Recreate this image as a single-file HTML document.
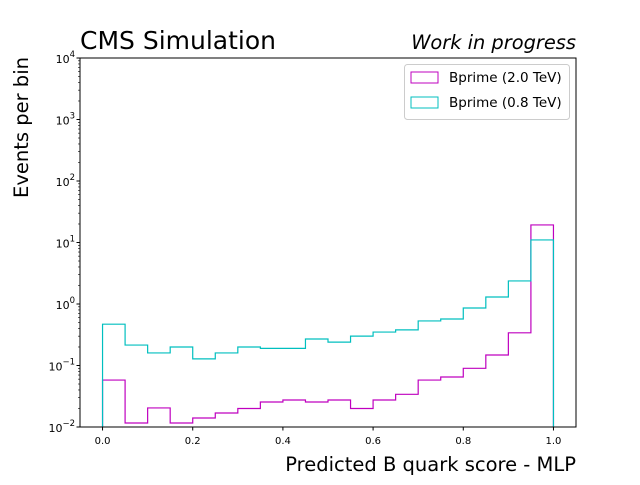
<!DOCTYPE html>
<html><head><meta charset="utf-8"><style>
body{margin:0;background:#fff;}
svg{font-family:"DejaVu Sans","Liberation Sans",sans-serif;}
</style></head><body>
<svg id="c" width="640" height="480">
<rect width="640" height="480" fill="#fff"/>
<g id="plot"></g>
<text x="80" y="49" font-size="25">CMS Simulation</text>
<text x="576" y="49" font-size="19.4" font-style="italic" text-anchor="end">Work in progress</text>
<text x="576" y="471" font-size="19.5" text-anchor="end">Predicted B quark score - MLP</text>
<text transform="translate(28,198) rotate(-90)" font-size="19.5">Events per bin</text>
<g>
<rect x="404.5" y="64.5" width="165" height="55" rx="3" fill="#fff" stroke="#ccc"/>
<rect x="411" y="72" width="27" height="11" fill="none" stroke="#bf00bf"/>
<text x="449" y="82" font-size="13.5">Bprime (2.0 TeV)</text>
<rect x="411" y="97" width="27" height="11" fill="none" stroke="#00bfbf"/>
<text x="449" y="107" font-size="13.5">Bprime (0.8 TeV)</text>
</g>
</svg>
<script>
const binEdgesStart = 0, binWidth = 0.05;
const bprime20 = [0.058,0.0116,0.0204,0.0116,0.014,0.0169,0.020,0.0255,0.0275,0.0255,0.0275,0.020,0.0275,0.034,0.058,0.065,0.09,0.148,0.34,19.3];
const bprime08 = [0.47,0.215,0.16,0.2,0.128,0.16,0.2,0.19,0.19,0.27,0.24,0.30,0.35,0.38,0.53,0.57,0.86,1.3,2.37,11];
const xTicks = [0,0.2,0.4,0.6,0.8,1.0];
const xTickLabels = ["0.0","0.2","0.4","0.6","0.8","1.0"];
const yExps = [-2,-1,0,1,2,3,4];

const L=80,R=576,T=58,B=427,xmin=-0.05,xmax=1.05,lmin=-2,lmax=4;
const sx=v=>L+(v-xmin)/(xmax-xmin)*(R-L);
const sy=v=>B-(Math.log10(v)-lmin)/(lmax-lmin)*(B-T);
const NS="http://www.w3.org/2000/svg";
const g=document.getElementById('plot');
function mk(t,a){const e=document.createElementNS(NS,t);for(const k in a)e.setAttribute(k,a[k]);g.appendChild(e);return e;}

function hist(vals,color,name){
  let d=`M${sx(binEdgesStart)},${B}`;
  vals.forEach((v,i)=>{const x0=sx(binEdgesStart+i*binWidth),x1=sx(binEdgesStart+(i+1)*binWidth);d+=` L${x0},${sy(v)} L${x1},${sy(v)}`;});
  d+=` L${sx(binEdgesStart+vals.length*binWidth)},${B}`;
  const p=mk('path',{d,fill:'none',stroke:color,'stroke-width':1.2});
  
  
}
hist(bprime20,'#bf00bf','hist-bprime-2tev');
hist(bprime08,'#00bfbf','hist-bprime-08tev');

const frame=mk('rect',{x:L,y:T,width:R-L,height:B-T,fill:'none',stroke:'#000','stroke-width':1});



xTicks.forEach((v,i)=>{
  mk('line',{x1:sx(v),x2:sx(v),y1:B,y2:B+3.5,stroke:'#000'});
  const t=mk('text',{x:sx(v),y:B+17,'font-size':10,'text-anchor':'middle'});
  t.textContent=xTickLabels[i];
  
  
});
yExps.forEach(e=>{
  const y=sy(Math.pow(10,e));
  mk('line',{x1:L-3.5,x2:L,y1:y,y2:y,stroke:'#000'});
  const t=mk('text',{x:L-5,y:y+5,'font-size':11,'text-anchor':'end'});
  
  
  const a=document.createElementNS(NS,'tspan');a.textContent='10';t.appendChild(a);
  const b=document.createElementNS(NS,'tspan');b.setAttribute('dy','-6');b.setAttribute('font-size','8.5');b.textContent=String(e).replace('-','\u2212');t.appendChild(b);
  if(e<lmax)for(let m=2;m<10;m++){const yy=sy(m*Math.pow(10,e));mk('line',{x1:L-2,x2:L,y1:yy,y2:yy,stroke:'#000','stroke-width':0.6});}
});
</script>
</body></html>
